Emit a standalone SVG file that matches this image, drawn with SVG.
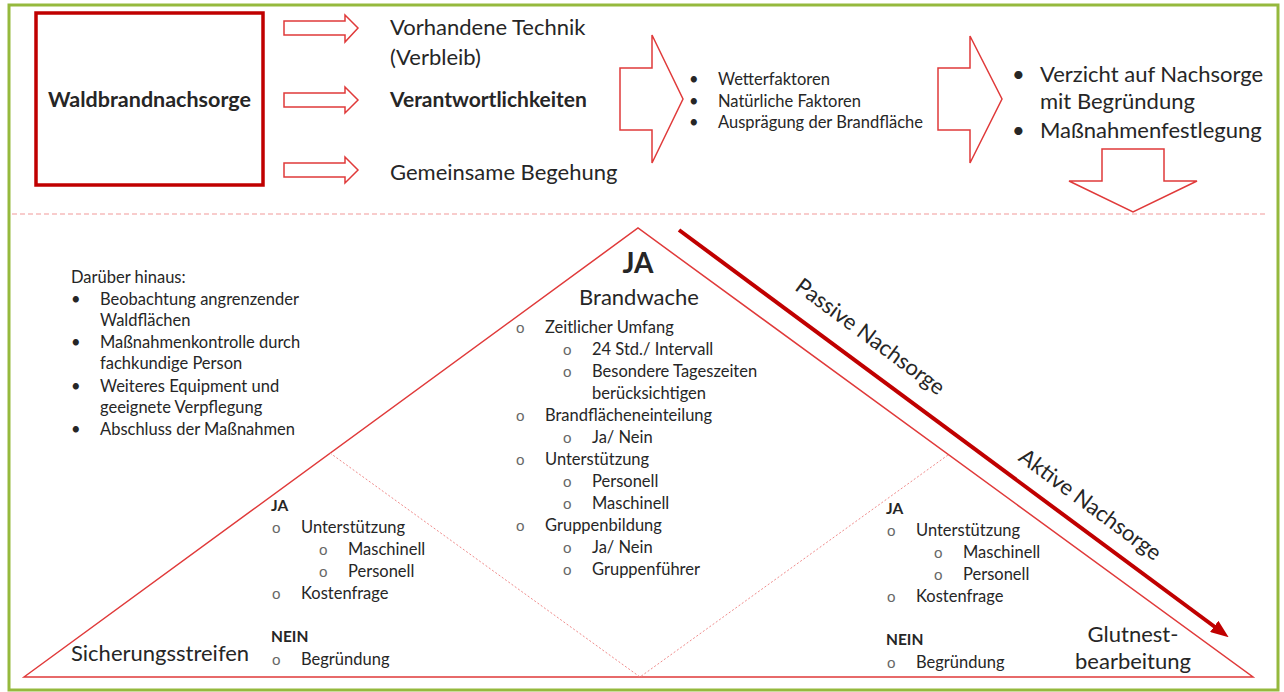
<svg xmlns="http://www.w3.org/2000/svg" width="1284" height="692" viewBox="0 0 1284 692">
<style>
text{font-family:Lato,"Liberation Sans",sans-serif;fill:#262626}
.b{font-weight:bold}
.t20{font-size:22px}
.s15{font-size:16.5px}
.s14{font-size:16.5px}
.sb{font-size:15.5px;font-weight:bold}
.o{fill:#666;font-size:15px}
.blk{fill:#fff;stroke:#E03A3A;stroke-width:1.5}
.tri{fill:none;stroke:#E03A3A;stroke-width:1.5}
.dash{fill:none;stroke:#F08C8C;stroke-width:1;stroke-dasharray:2 2}
</style>
<defs>
<marker id="ah" markerUnits="userSpaceOnUse" markerWidth="18" markerHeight="14" refX="6" refY="7" orient="auto">
<path d="M0,0 L18,7 L0,14 Z" fill="#C00000"/>
</marker>
</defs>
<rect x="0" y="0" width="1284" height="692" fill="#fff"/>
<rect x="9" y="5" width="1269" height="685" fill="none" stroke="#95B93D" stroke-width="3"/>
<line x1="12" y1="214" x2="1268" y2="214" stroke="#F29A9A" stroke-width="1.2" stroke-dasharray="5 3"/>

<g id="waldbrandnachsorge">
<rect x="36" y="13" width="227" height="172" fill="#fff" stroke="#C00000" stroke-width="3.5"/>
<text x="149.5" y="107" text-anchor="middle" class="b" style="font-size:21.5px">Waldbrandnachsorge</text>
</g>

<g id="connectors">
<path class="blk" d="M284,21 H345 V15 L358,28 L345,42 V35 H284 Z"/>
<path class="blk" d="M284,93 H345 V87 L358,100 L345,113 V107 H284 Z"/>
<path class="blk" d="M284,163 H345 V157 L358,170 L345,183 V177 H284 Z"/>
<path class="blk" d="M620,68 H652 V35 L683,99 L652,163 V130 H620 Z"/>
<path class="blk" d="M938,68 H970 V36 L1002,99 L970,163 V130 H938 Z"/>
<path class="blk" d="M1102,149 H1164 V181 H1197 L1133,212 L1069,181 H1102 Z"/>
<line x1="679" y1="230" x2="1219" y2="630" stroke="#C00000" stroke-width="4" marker-end="url(#ah)"/>
</g>

<g id="vorhandene-technik">
<text x="390" y="35" class="t20">Vorhandene Technik</text>
<text x="390" y="65" class="t20">(Verbleib)</text>
</g>
<g id="verantwortlichkeiten">
<text x="390" y="107" class="b" style="font-size:21px">Verantwortlichkeiten</text>
</g>
<g id="gemeinsame-begehung">
<text x="390" y="180" class="t20">Gemeinsame Begehung</text>
</g>

<g id="faktoren">
<text x="689" y="85" class="s14">•</text><text x="718" y="85" class="s14">Wetterfaktoren</text>
<text x="689" y="107" class="s14">•</text><text x="718" y="107" class="s14">Natürliche Faktoren</text>
<text x="689" y="128" class="s14">•</text><text x="718" y="128" class="s14">Ausprägung der Brandfläche</text>
</g>

<g id="entscheidung">
<text x="1012" y="82" class="t20">•</text><text x="1040" y="82" class="t20">Verzicht auf Nachsorge</text>
<text x="1040" y="109" class="t20">mit Begründung</text>
<text x="1012" y="138" class="t20">•</text><text x="1040" y="138" class="t20">Maßnahmenfestlegung</text>
</g>

<g id="triangle">
<path class="tri" d="M24,677 L638,228 L1253,677 Z"/>
<path class="dash" d="M330,453 L640,677 L948,455"/>
</g>

<g id="darueber-hinaus">
<text x="71" y="283" class="s15">Darüber hinaus:</text>
<text x="71" y="305" class="s15">•</text><text x="100" y="305" class="s15">Beobachtung angrenzender</text>
<text x="100" y="326" class="s15">Waldflächen</text>
<text x="71" y="348" class="s15">•</text><text x="100" y="348" class="s15">Maßnahmenkontrolle durch</text>
<text x="100" y="369" class="s15">fachkundige Person</text>
<text x="71" y="392" class="s15">•</text><text x="100" y="392" class="s15">Weiteres Equipment und</text>
<text x="100" y="413" class="s15">geeignete Verpflegung</text>
<text x="71" y="435" class="s15">•</text><text x="100" y="435" class="s15">Abschluss der Maßnahmen</text>
</g>

<g id="brandwache">
<text x="638" y="273" text-anchor="middle" class="b" style="font-size:28px">JA</text>
<text x="639" y="305" text-anchor="middle" style="font-size:22px">Brandwache</text>
<text x="516" y="333" class="o">o</text><text x="545" y="333" class="s15">Zeitlicher Umfang</text>
<text x="563" y="355" class="o">o</text><text x="592" y="355" class="s15">24 Std./ Intervall</text>
<text x="563" y="377" class="o">o</text><text x="592" y="377" class="s15">Besondere Tageszeiten</text>
<text x="592" y="399" class="s15">berücksichtigen</text>
<text x="516" y="421" class="o">o</text><text x="545" y="421" class="s15">Brandflächeneinteilung</text>
<text x="563" y="443" class="o">o</text><text x="592" y="443" class="s15">Ja/ Nein</text>
<text x="516" y="465" class="o">o</text><text x="545" y="465" class="s15">Unterstützung</text>
<text x="563" y="487" class="o">o</text><text x="592" y="487" class="s15">Personell</text>
<text x="563" y="509" class="o">o</text><text x="592" y="509" class="s15">Maschinell</text>
<text x="516" y="531" class="o">o</text><text x="545" y="531" class="s15">Gruppenbildung</text>
<text x="563" y="553" class="o">o</text><text x="592" y="553" class="s15">Ja/ Nein</text>
<text x="563" y="575" class="o">o</text><text x="592" y="575" class="s15">Gruppenführer</text>
</g>

<g id="sicherungsstreifen">
<text x="71" y="661" class="t20">Sicherungsstreifen</text>
<text x="271" y="511" class="sb">JA</text>
<text x="272" y="533" class="o">o</text><text x="301" y="533" class="s15">Unterstützung</text>
<text x="319" y="555" class="o">o</text><text x="348" y="555" class="s15">Maschinell</text>
<text x="319" y="577" class="o">o</text><text x="348" y="577" class="s15">Personell</text>
<text x="272" y="599" class="o">o</text><text x="301" y="599" class="s15">Kostenfrage</text>
<text x="271" y="642" class="sb">NEIN</text>
<text x="272" y="665" class="o">o</text><text x="301" y="665" class="s15">Begründung</text>
</g>

<g id="glutnestbearbeitung">
<text x="1133" y="642" text-anchor="middle" class="t20">Glutnest-</text>
<text x="1133" y="669" text-anchor="middle" class="t20">bearbeitung</text>
<text x="886" y="514" class="sb">JA</text>
<text x="887" y="536" class="o">o</text><text x="916" y="536" class="s15">Unterstützung</text>
<text x="934" y="558" class="o">o</text><text x="963" y="558" class="s15">Maschinell</text>
<text x="934" y="580" class="o">o</text><text x="963" y="580" class="s15">Personell</text>
<text x="887" y="602" class="o">o</text><text x="916" y="602" class="s15">Kostenfrage</text>
<text x="886" y="645" class="sb">NEIN</text>
<text x="887" y="668" class="o">o</text><text x="916" y="668" class="s15">Begründung</text>
</g>

<g id="passive-nachsorge">
<text transform="translate(870,337) rotate(36.5)" y="7" text-anchor="middle" class="t20">Passive Nachsorge</text>
</g>
<g id="aktive-nachsorge">
<text transform="translate(1090,505) rotate(36.5)" y="7" text-anchor="middle" class="t20">Aktive Nachsorge</text>
</g>
</svg>
